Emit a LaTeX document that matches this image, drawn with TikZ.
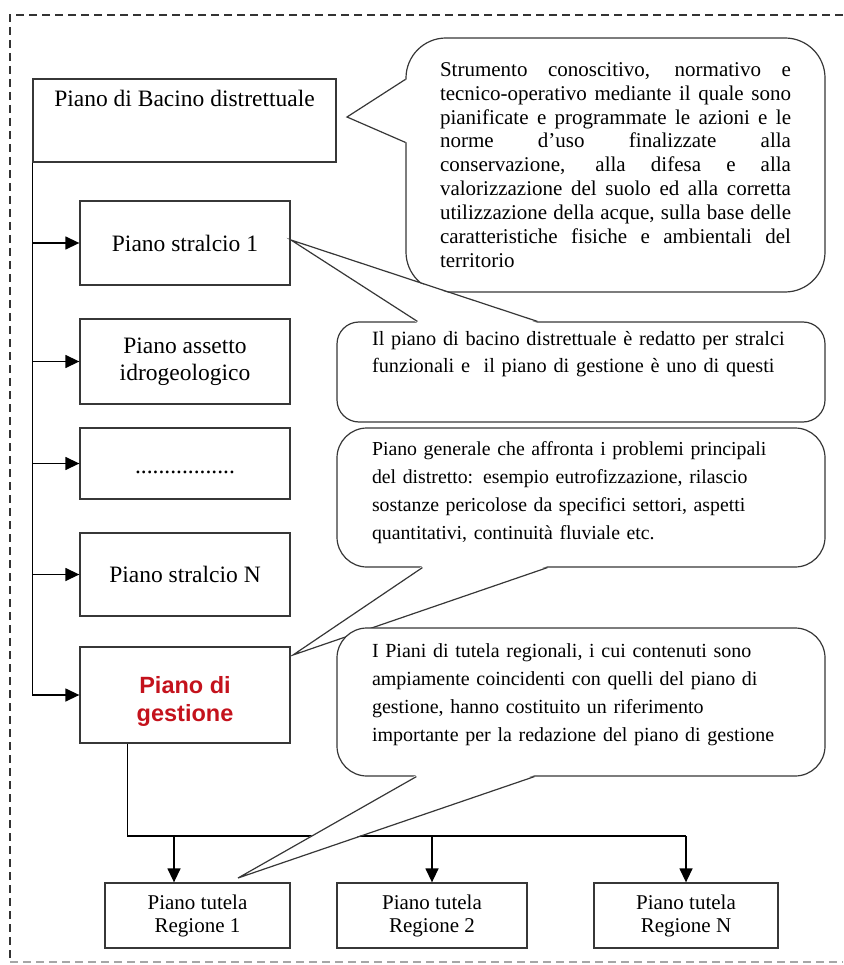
\documentclass[tikz,border=0pt]{standalone}
\usepackage{fontspec}
\setmainfont{Liberation Serif}
\newfontfamily\gestfont{Liberation Sans}
\usetikzlibrary{arrows.meta,positioning,calc}
\definecolor{gestred}{RGB}{196,18,28}
\definecolor{linegray}{RGB}{55,55,55}
\tolerance=10000
\hbadness=10000
\hyphenpenalty=10000

\begin{document}
\begin{tikzpicture}[
    x=1pt, y=-1pt,
    font=\fontsize{23.5pt}{27pt}\selectfont,
    box/.style={draw=linegray, line width=1.3pt, minimum width=210pt, align=center, inner sep=0pt},
    reg/.style={draw=linegray, line width=1.3pt, minimum height=65pt, align=center, inner sep=0pt, font=\fontsize{21pt}{23pt}\selectfont},
    note/.style={draw=linegray, line width=1.2pt, fill=white, rounded corners=30pt, minimum width=488pt, text width=418pt, inner xsep=35pt, inner ysep=0pt, align=left},
    wedge/.style={draw=linegray, line width=1.2pt},
    arrow/.style={-{Triangle[length=14pt, width=13pt]}, line width=1.4pt},
    link/.style={line width=1.3pt},
    dashframe/.style={draw=black!80, line width=1.5pt, dash pattern=on 8pt off 5pt}
  ]
    \useasboundingbox (0,0) rectangle (843,965);
    \draw[dashframe] (843,15) -- (10,15) -- (10,962);
    \draw[dashframe, draw=black!35] (10,962) -- (843,962);

    % left column
    \node[box, minimum width=303pt, minimum height=83pt, inner ysep=11pt, text height=17pt, text depth=44pt] (bacino) at (184.5,120.5) {Piano di Bacino distrettuale};
    \node[box, minimum height=84pt] (s1) at (185,243) {Piano stralcio 1};
    \node[box, minimum height=85pt] (s2) at (185,361.5) {Piano assetto\\idrogeologico};
    \node[box, minimum height=71pt, text height=20pt, text depth=0pt] (s3) at (185,463.5) {.................};
    \node[box, minimum height=83pt] (s4) at (185,574.5) {Piano stralcio N};
    \node[box, minimum height=96pt, text=gestred, text height=57pt, text depth=5pt, font=\gestfont\bfseries\fontsize{23.5pt}{28pt}\selectfont] (gest) at (185,695) {Piano di\\gestione};

    % regional plans
    \node[reg, minimum width=185pt] (r1) at (197.5,915.5) {Piano tutela\\Regione 1};
    \node[reg, minimum width=190pt] (r2) at (432,915.5) {Piano tutela\\Regione 2};
    \node[reg, minimum width=184pt] (r3) at (686,915.5) {Piano tutela\\Regione N};

    \draw[link] (bacino.south west) -- (bacino.south west |- gest.west);
    \draw[arrow] (bacino.south west |- s1.west) -- (s1.west);
    \draw[arrow] (bacino.south west |- s2.west) -- (s2.west);
    \draw[arrow] (bacino.south west |- s3.west) -- (s3.west);
    \draw[arrow] (bacino.south west |- s4.west) -- (s4.west);
    \draw[arrow] (bacino.south west |- gest.west) -- (gest.west);

    \coordinate (drop) at ($(gest.south west)+(48,0)$);
    \coordinate (bus) at (0,836);
    \coordinate (r1in) at ($(r1.north)+(-23.5,0)$);
    \draw[link] (drop) |- (bus -| r3.north);
    \draw[arrow] (bus -| r1in) -- (r1in);
    \draw[arrow] (bus -| r2.north) -- (r2.north);
    \draw[arrow] (bus -| r3.north) -- (r3.north);

    % callouts
    \node[note, minimum width=419pt, minimum height=254pt, text width=351pt, inner xsep=34pt, align=justify, rounded corners=40pt, font=\fontsize{21pt}{23.9pt}\selectfont] (c1) at (615.5,165) {Strumento conoscitivo, normativo e\linebreak tecnico-operativo mediante il quale sono\linebreak pianificate e programmate le azioni e le\linebreak norme d'uso finalizzate alla\linebreak conservazione, alla difesa e alla\linebreak valorizzazione del suolo ed alla corretta\linebreak utilizzazione della acque, sulla base delle\linebreak caratteristiche fisiche e ambientali del\linebreak territorio};
    \coordinate (t1) at (347,117);
    \fill[white] ($(c1.north west)+(1.5,42)$) -- (t1) -- ($(c1.north west)+(1.5,105)$) -- cycle;
    \draw[wedge] ($(c1.north west)+(0,42)$) -- (t1) -- ($(c1.north west)+(0,105)$);

    \node[note, minimum height=100pt, rounded corners=22pt, text depth=68pt, font=\fontsize{20.3pt}{27pt}\selectfont] (c2) at (581,372) {Il piano di bacino distrettuale è redatto per stralci\\funzionali e\ \ il piano di gestione è uno di questi};
    \coordinate (t2) at (291,240);
    \fill[white] ($(c2.north west)+(81,1.5)$) -- (t2) -- ($(c2.north west)+(201,1.5)$) -- cycle;
    \draw[wedge] ($(c2.north west)+(81,0)$) -- (t2) -- ($(c2.north west)+(201,0)$);

    \node[note, minimum height=139pt, text depth=97pt, font=\fontsize{19.8pt}{27.7pt}\selectfont] (c3) at (581,497.5) {Piano generale che affronta i problemi principali\\del distretto: esempio eutrofizzazione, rilascio\\sostanze pericolose da specifici settori, aspetti\\quantitativi, continuità fluviale etc.};
    \coordinate (t3) at (293,655);
    \fill[white] ($(c3.south west)+(86,-1.5)$) -- (t3) -- ($(c3.south west)+(211,-1.5)$) -- cycle;
    \draw[wedge] ($(c3.south west)+(86,0)$) -- (t3) -- ($(c3.south west)+(211,0)$);

    \node[note, minimum height=148pt, text depth=102pt, font=\fontsize{20pt}{27.7pt}\selectfont] (c4) at (581,702) {I Piani di tutela regionali, i cui contenuti sono\\ampiamente coincidenti con quelli del piano di\\gestione, hanno costituito un riferimento\\importante per la redazione del piano di gestione};
    \coordinate (t4) at (238,878);
    \fill[white] ($(c4.south west)+(80,-1.5)$) -- (t4) -- ($(c4.south west)+(198,-1.5)$) -- cycle;
    \draw[wedge] ($(c4.south west)+(80,0)$) -- (t4) -- ($(c4.south west)+(198,0)$);
  \end{tikzpicture}
\end{document}
